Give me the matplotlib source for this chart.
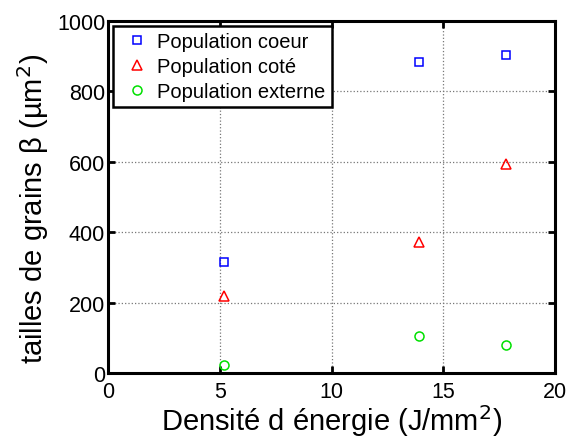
import numpy as np
import matplotlib.pyplot as plt

plt.rcParams['font.family'] = ['Liberation Sans', 'DejaVu Sans']

# densité d'énergie (J/mm2)
energie = [5.2, 13.9, 17.8]

# tailles de grains (µm2)
coeur = [316, 884, 904]
cote = [220, 372, 594]
externe = [22, 106, 80]

fig = plt.figure(figsize=(5.67, 4.39), dpi=100)
ax = fig.add_axes([108/567, 1-374/439, (555-108)/567, (374-22)/439])

ax.plot(energie, coeur, 's', mfc='none', mec='#0000ff', ms=5.5, mew=1.1, label="Population coeur")
ax.plot(energie, cote, '^', mfc='none', mec='#ff0000', ms=7.5, mew=1.1, label="Population coté")
ax.plot(energie, externe, 'o', mfc='none', mec='#00e000', ms=6.5, mew=1.1, label="Population externe")

ax.set_xlim(0, 20)
ax.set_ylim(0, 1000)
ax.set_xticks([0, 5, 10, 15, 20])
ax.set_yticks([0, 200, 400, 600, 800, 1000])
ax.grid(True, linestyle=':', color='#777777', linewidth=0.9)
ax.set_axisbelow(True)
for s in ax.spines.values():
    s.set_linewidth(2.2)
ax.tick_params(direction='in', length=5, width=2, top=True, right=True, labelsize=15.5, pad=2)
ax.tick_params(axis='x', pad=6)

ax.set_xlabel("Densité d énergie (J/mm$^2$)", fontsize=21, labelpad=0)
ax.set_ylabel("tailles de grains β (µm$^2$)", fontsize=21)
ax.yaxis.set_label_coords(-0.128, 0.47)

leg = ax.legend(loc='upper left', fontsize=14.5, frameon=True, fancybox=False, handletextpad=0.1,
                borderaxespad=0.25, labelspacing=0.3, borderpad=0.3, handlelength=1.8)
leg.get_frame().set_edgecolor('black')
leg.get_frame().set_linewidth(1.8)
leg.get_frame().set_alpha(1)

fig.savefig("out.png", dpi=100)
